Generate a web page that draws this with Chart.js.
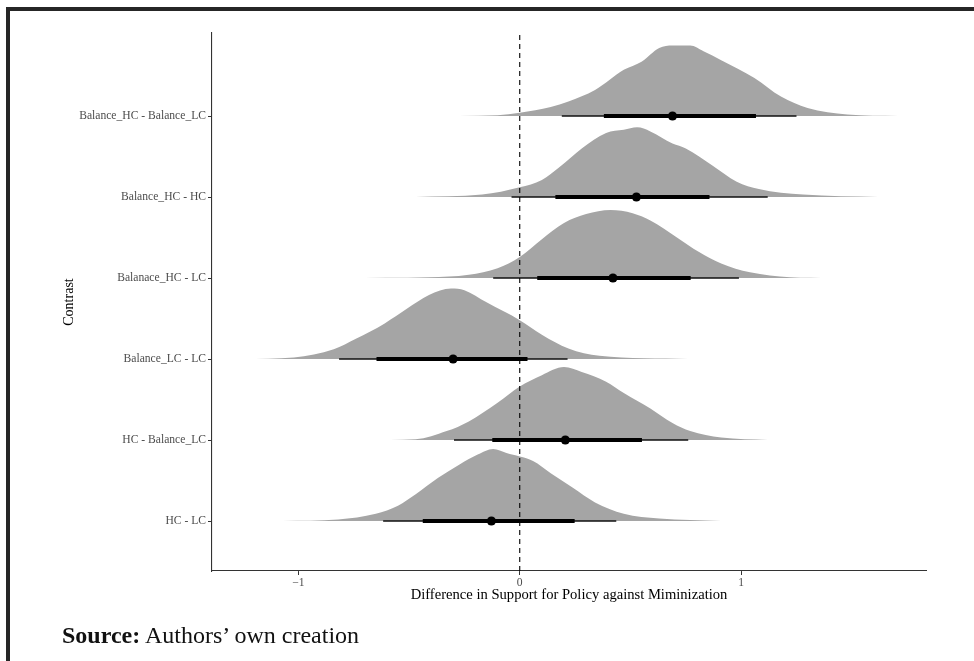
<!DOCTYPE html>
<html>
<head>
<meta charset="utf-8">
<script src="https://cdn.jsdelivr.net/npm/chart.js@4.4.1/dist/chart.umd.min.js"></script>
<style>
  html, body { margin: 0; padding: 0; background: #fff; }
  #wrap { position: relative; width: 974px; height: 661px; overflow: hidden; }
  #frame { position: absolute; left: 6px; top: 7px; width: 980px; height: 670px;
           border-top: 4px solid #262626; border-left: 4px solid #262626; }
  #chart { position: absolute; left: 0; top: 0; }
  #source { position: absolute; left: 62px; top: 622px; font-family: "Liberation Serif", serif;
            font-size: 24px; color: #111; }
</style>
</head>
<body>
<div id="wrap">
  <canvas id="chart" width="974" height="661"></canvas>
  <div id="frame"></div>
  <div id="source"><b>Source:</b> Authors’ own creation</div>
</div>
<script>
// Contrasts, bottom row first
const contrasts = ['HC - LC', 'HC - Balance_LC', 'Balance_LC - LC', 'Balanace_HC - LC', 'Balance_HC - HC', 'Balance_HC - Balance_LC'];

// Posterior summaries (median, 66% and 95% intervals)
const medians = [-0.128, 0.206, -0.301, 0.421, 0.527, 0.69];
const lo66 = [-0.438, -0.124, -0.647, 0.079, 0.161, 0.38];
const hi66 = [0.248, 0.552, 0.035, 0.772, 0.857, 1.067];
const lo95 = [-0.617, -0.297, -0.816, -0.12, -0.037, 0.19];
const hi95 = [0.436, 0.761, 0.216, 0.99, 1.12, 1.25];

// Density curves (height as share of row spacing)
const densX_hcLc = [-1.07, -0.82, -0.65, -0.55, -0.47, -0.37, -0.27, -0.19, -0.12, -0.06, 0.06, 0.14, 0.24, 0.34, 0.47, 0.63, 0.91];
const densH_hcLc = [0, 0.02, 0.09, 0.19, 0.33, 0.53, 0.70, 0.82, 0.89, 0.84, 0.74, 0.59, 0.41, 0.23, 0.09, 0.03, 0];

const densX_hcBlc = [-0.70, -0.47, -0.33, -0.23, -0.10, 0.00, 0.10, 0.20, 0.28, 0.39, 0.47, 0.59, 0.69, 0.77, 0.91, 1.12];
const densH_hcBlc = [0, 0.01, 0.11, 0.23, 0.46, 0.66, 0.80, 0.90, 0.84, 0.72, 0.58, 0.39, 0.21, 0.11, 0.03, 0];

const densX_blcLc = [-1.25, -1.02, -0.84, -0.74, -0.61, -0.51, -0.41, -0.31, -0.25, -0.15, 0.00, 0.10, 0.22, 0.36, 0.76];
const densH_blcLc = [0, 0.02, 0.12, 0.25, 0.44, 0.62, 0.79, 0.87, 0.85, 0.70, 0.48, 0.30, 0.13, 0.04, 0];

const densX_bhcLc = [-0.80, -0.41, -0.23, -0.10, 0.00, 0.10, 0.20, 0.30, 0.41, 0.51, 0.59, 0.71, 0.81, 0.91, 1.04, 1.22, 1.41];
const densH_bhcLc = [0, 0.01, 0.04, 0.12, 0.26, 0.48, 0.68, 0.79, 0.84, 0.80, 0.71, 0.50, 0.32, 0.18, 0.07, 0.01, 0];

const densX_bhcHc = [-0.47, -0.17, 0.00, 0.10, 0.18, 0.28, 0.39, 0.47, 0.53, 0.59, 0.69, 0.75, 0.87, 0.98, 1.08, 1.28, 1.62];
const densH_bhcHc = [0, 0.03, 0.12, 0.21, 0.37, 0.60, 0.79, 0.83, 0.86, 0.81, 0.66, 0.60, 0.39, 0.19, 0.10, 0.03, 0];

const densX_bhcBlc = [-0.45, -0.10, 0.00, 0.14, 0.22, 0.34, 0.47, 0.55, 0.63, 0.69, 0.77, 0.83, 0.91, 1.06, 1.18, 1.30, 1.48, 1.71];
const densH_bhcBlc = [0, 0.01, 0.04, 0.11, 0.18, 0.32, 0.57, 0.67, 0.84, 0.87, 0.87, 0.80, 0.69, 0.47, 0.24, 0.10, 0.02, 0];

const densXs = [densX_hcLc, densX_hcBlc, densX_blcLc, densX_bhcLc, densX_bhcHc, densX_bhcBlc];
const densHs = [densH_hcLc, densH_hcBlc, densH_blcLc, densH_bhcLc, densH_bhcHc, densH_bhcBlc];

// Axis ranges and ticks
const xTicks = [-1, 0, 1];
const xMin = -1.39, xMax = 1.835;
const yMin = 0.383, yMax = 7.025;

const datasets = [];

// reference line at zero (drawn on top)
datasets.push({
    data: [{ x: 0, y: yMin }, { x: 0, y: yMax }],
    borderColor: '#000',
    borderWidth: 1.1,
    borderDash: [5, 4],
    pointRadius: 0,
    order: 0
});

contrasts.forEach((name, i) => {
    const row = i + 1;
    // median point
    datasets.push({
        data: [{ x: medians[i], y: row }],
        showLine: false,
        pointRadius: 4.6,
        pointBackgroundColor: '#000',
        pointBorderWidth: 0,
        order: 1
    });
    // 66% interval
    datasets.push({
        data: [{ x: lo66[i], y: row }, { x: hi66[i], y: row }],
        borderColor: '#000',
        borderWidth: 4,
        borderCapStyle: 'butt',
        pointRadius: 0,
        order: 2
    });
    // 95% interval
    datasets.push({
        data: [{ x: lo95[i], y: row }, { x: hi95[i], y: row }],
        borderColor: '#111',
        borderWidth: 1.6,
        borderCapStyle: 'butt',
        pointRadius: 0,
        order: 3
    });
    // density
    datasets.push({
        data: densXs[i].map((x, k) => ({ x: x, y: row + densHs[i][k] })),
        borderWidth: 0,
        borderColor: 'rgba(0,0,0,0)',
        backgroundColor: '#a5a5a5',
        fill: { value: row },
        pointRadius: 0,
        cubicInterpolationMode: 'monotone',
        order: 5
    });
});

new Chart(document.getElementById('chart'), {
    type: 'scatter',
    data: { datasets: datasets },
    options: {
        responsive: false,
        animation: false,
        showLine: true,
        layout: { padding: { left: 0, top: 33, right: 48, bottom: 0 } },
        plugins: {
            legend: { display: false },
            tooltip: { enabled: false }
        },
        scales: {
            x: {
                type: 'linear',
                min: xMin,
                max: xMax,
                afterBuildTicks: axis => { axis.ticks = xTicks.map(v => ({ value: v })); },
                afterFit: axis => { axis.height = 90; },
                ticks: {
                    color: '#4d4d4d',
                    font: { family: 'Liberation Serif', size: 11.6 },
                    padding: 1,
                    callback: v => (v < 0 ? '\u2212' + Math.abs(v) : String(v))
                },
                grid: { drawOnChartArea: false, drawTicks: true, tickLength: 4, color: '#333', lineWidth: 1 },
                border: { display: true, color: '#333', width: 1.1 },
                title: {
                    display: true,
                    text: 'Difference in Support for Policy against Miminization',
                    color: '#000',
                    font: { family: 'Liberation Serif', size: 14.6 },
                    padding: { top: 0, bottom: 57 }
                }
            },
            y: {
                type: 'linear',
                min: yMin,
                max: yMax,
                afterBuildTicks: axis => { axis.ticks = contrasts.map((c, i) => ({ value: i + 1 })); },
                afterFit: axis => { axis.width = 212; },
                ticks: {
                    color: '#4d4d4d',
                    font: { family: 'Liberation Serif', size: 11.6 },
                    padding: 2,
                    callback: v => contrasts[Math.round(v) - 1]
                },
                grid: { drawOnChartArea: false, drawTicks: true, tickLength: 4, color: '#333', lineWidth: 1 },
                border: { display: true, color: '#333', width: 1.1 },
                title: {
                    display: true,
                    text: 'Contrast',
                    color: '#000',
                    font: { family: 'Liberation Serif', size: 14 },
                    padding: { top: 61, bottom: 0 }
                }
            }
        }
    }
});
</script>
</body>
</html>
